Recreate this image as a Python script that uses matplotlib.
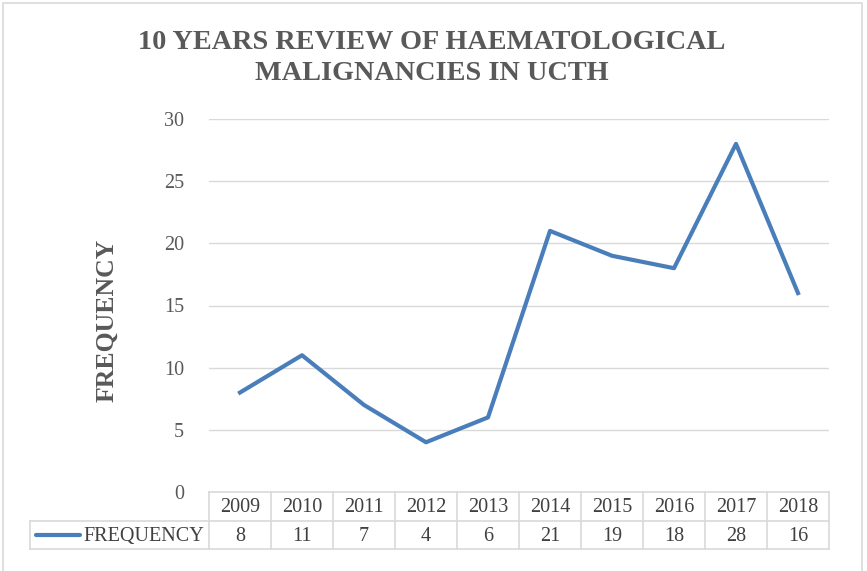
import matplotlib
matplotlib.use("Agg")
import matplotlib.pyplot as plt
from matplotlib.transforms import blended_transform_factory
from matplotlib.patches import Rectangle

years = ["2009", "2010", "2011", "2012", "2013", "2014", "2015", "2016", "2017", "2018"]
frequency = [8, 11, 7, 4, 6, 21, 19, 18, 28, 16]
yticks = [0, 5, 10, 15, 20, 25, 30]
series_name = "FREQUENCY"
title = "10 YEARS REVIEW OF HAEMATOLOGICAL\nMALIGNANCIES IN UCTH"

W, H = 867, 571
fig = plt.figure(figsize=(W / 100, H / 100), dpi=100)
serif = ["Liberation Serif", "DejaVu Serif"]
txt = "#595959"
grid = "#d9d9d9"
line_c = "#4a7ebb"
fs = 14.5

# figure border
fig.add_artist(Rectangle((3 / W, -0.01), (862 - 3) / W, 1 - 3 / H + 0.01,
                         transform=fig.transFigure, fill=False, edgecolor=grid, lw=1.2))

x0, x1, ytop, ybot = 209, 829, 119, 492
ax = fig.add_axes([x0 / W, 1 - ybot / H, (x1 - x0) / W, (ybot - ytop) / H])
xs = list(range(len(years)))
ax.plot(xs, frequency, color=line_c, lw=3.0, solid_joinstyle="round", clip_on=False)
ax.set_xlim(-0.5, len(years) - 0.5)
ax.set_ylim(0, 30)
ax.set_yticks(yticks)
ax.set_yticklabels([str(v) for v in yticks], fontfamily=serif, fontsize=fs, color=txt)
ax.tick_params(axis="y", length=0, pad=18)
ax.set_xticks([])
ax.grid(axis="y", color=grid, lw=1)
ax.set_axisbelow(True)
for s in ax.spines.values():
    s.set_visible(False)

# y label
fig.text(107 / W, 1 - 320 / H, "FREQUENCY", rotation=90, ha="center", va="center",
         fontfamily=serif, fontsize=18.5, fontweight="bold", color=txt)

# title
fig.text(432 / W, 1 - 58 / H, title, ha="center", va="center", fontfamily=serif,
         fontsize=20.3, fontweight="bold", color=txt, linespacing=1.28)

# data table
tr = blended_transform_factory(ax.transData, fig.transFigure)
trf = fig.transFigure
r0, r1, r2 = 1 - 492 / H, 1 - 521 / H, 1 - 549 / H
lx = 30 / W
kw = dict(color=grid, lw=1.2, clip_on=False)
fig.add_artist(plt.Line2D([x0 / W, x1 / W], [r0, r0], transform=trf, **kw))
fig.add_artist(plt.Line2D([lx, x1 / W], [r1, r1], transform=trf, **kw))
fig.add_artist(plt.Line2D([lx, x1 / W], [r2, r2], transform=trf, **kw))
fig.add_artist(plt.Line2D([lx, lx], [r1, r2], transform=trf, **kw))
for i in range(len(years) + 1):
    xv = i - 0.5
    ax.add_line(plt.Line2D([xv, xv], [r0, r2], transform=tr, **kw))
dy = 1.5 / H
for i, (yr, v) in enumerate(zip(years, frequency)):
    ax.text(i, (r0 + r1) / 2 - dy, yr, transform=tr, ha="center", va="center",
            fontfamily=serif, fontsize=fs, color="#404040", clip_on=False)
    ax.text(i, (r1 + r2) / 2 - dy, str(v), transform=tr, ha="center", va="center",
            fontfamily=serif, fontsize=fs, color="#404040", clip_on=False)
# legend key
ym = (r1 + r2) / 2
fig.add_artist(plt.Line2D([36 / W, 80 / W], [ym, ym], transform=trf, color=line_c, lw=3.0,
                          solid_capstyle="round"))
fig.text(83 / W, ym - dy, series_name, ha="left", va="center", fontfamily=serif, fontsize=fs,
         color="#404040")

fig.savefig("out.png", dpi=100, facecolor="white")
